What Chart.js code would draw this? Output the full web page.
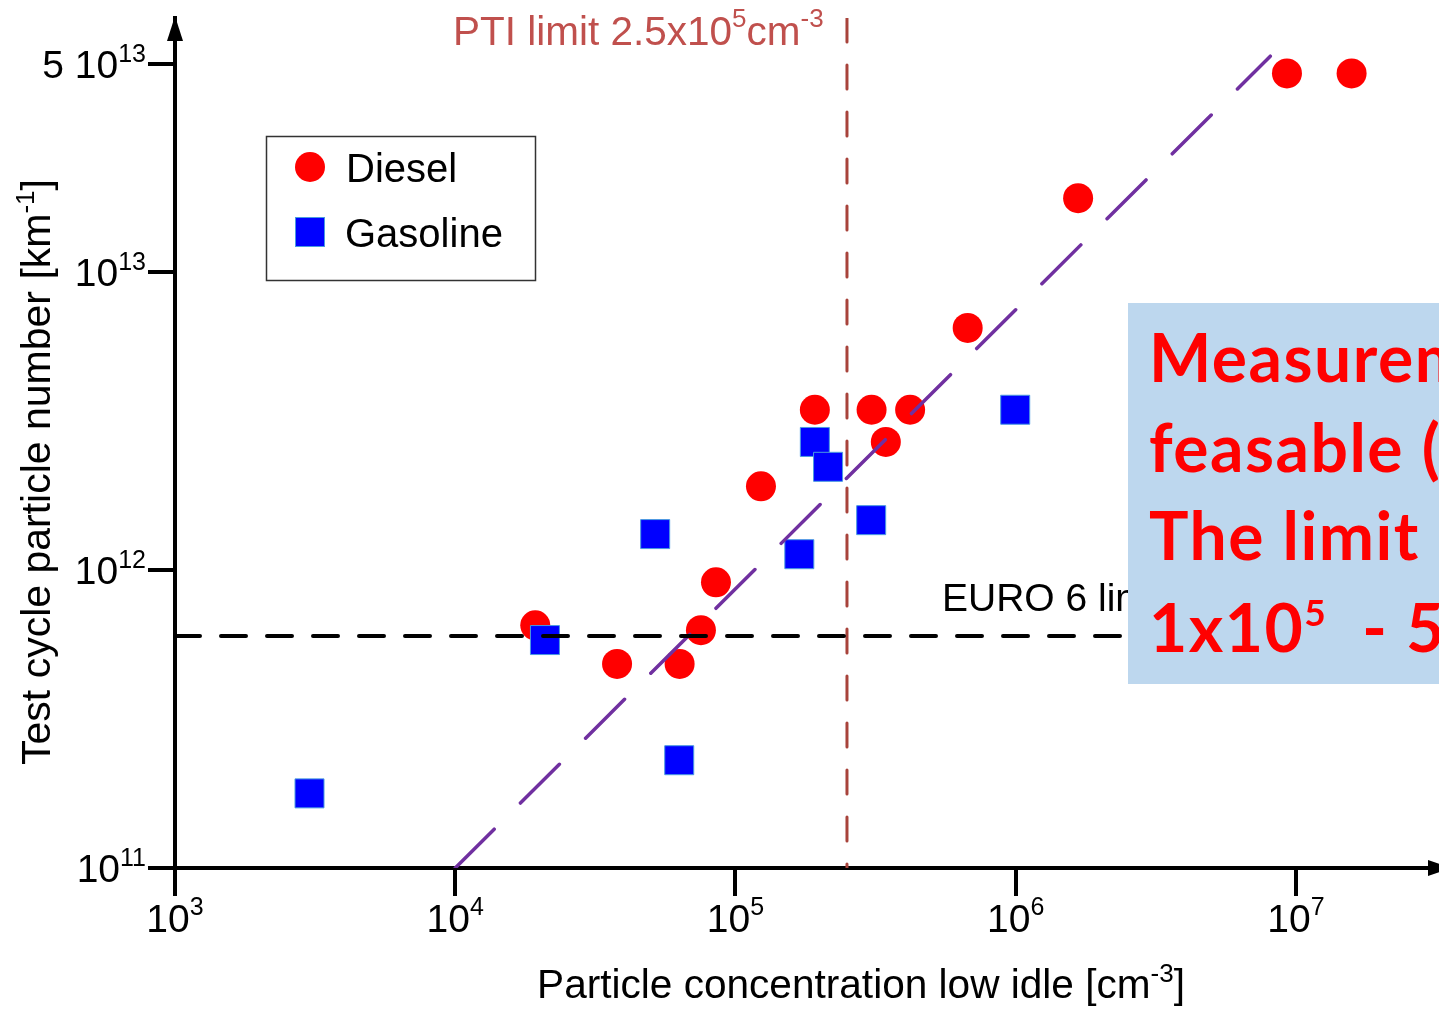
<!DOCTYPE html>
<html>
<head>
<meta charset="utf-8">
<script src="https://cdn.jsdelivr.net/npm/chart.js@4.4.1/dist/chart.umd.min.js"></script>
<style>
html,body{margin:0;padding:0;background:#fff;overflow:hidden}
#wrap{width:1439px;height:1010px;position:relative}
canvas{display:block}
</style>
</head>
<body>
<div id="wrap"><canvas id="c" width="1439" height="1010"></canvas></div>
<script>
// ---------------- data ----------------
const dieselX = [1.93e4, 3.78e4, 6.32e4, 7.53e4, 8.52e4, 1.233e5, 1.92e5, 3.06e5, 4.2e5, 3.44e5, 6.74e5, 1.67e6, 9.29e6, 1.58e7];
const dieselY = [6.52e11, 4.84e11, 4.84e11, 6.28e11, 9.09e11, 1.91e12, 3.45e12, 3.45e12, 3.45e12, 2.69e12, 6.49e12, 1.77e13, 4.64e13, 4.64e13];
const gasolineX = [3.02e3, 2.09e4, 5.17e4, 6.3e4, 1.92e5, 2.14e5, 3.05e5, 1.69e5, 9.96e5];
const gasolineY = [1.78e11, 5.82e11, 1.32e12, 2.3e11, 2.69e12, 2.22e12, 1.47e12, 1.13e12, 3.45e12];
const fitX = [1e4, 8.1e6];
const fitY = [1e11, 5.3e13];
const euro6Limit = 6e11;
const ptiLimit = 2.5e5;
const xRange = [1e3, 3.24e7];
const yRange = [1e11, 7.12e13];
const xTicks = [1e3, 1e4, 1e5, 1e6, 1e7];
const xTickLabels = ['10^{3}', '10^{4}', '10^{5}', '10^{6}', '10^{7}'];
const yTicks = [1e11, 1e12, 1e13, 5e13];
const yTickLabels = ['10^{11}', '10^{12}', '10^{13}', '5 10^{13}'];
const seriesNames = ['Diesel', 'Gasoline'];
const xTitle = 'Particle concentration low idle [cm^{-3}]';
const yTitle = 'Test cycle particle number [km^{-1}]';
const ptiText = 'PTI limit 2.5x10^{5}cm^{-3}';
const euroText = 'EURO 6 limit';
const boxLines = ['Measurement', 'feasable (', 'The limit', '1x10^{5}  - 5x10^{5}'];

// ---------------- helpers ----------------
const FONT = "'Liberation Sans', Arial, Helvetica, sans-serif";
function parseRich(s) {
  const out = []; const re = /\^\{([^}]*)\}/g; let last = 0, m;
  while ((m = re.exec(s))) {
    if (m.index > last) out.push({t: s.slice(last, m.index), sup: false});
    out.push({t: m[1], sup: true}); last = re.lastIndex;
  }
  if (last < s.length) out.push({t: s.slice(last), sup: false});
  return out;
}
function drawRich(ctx, s, x, y, o) {
  const segs = parseRich(s);
  const fam = o.family || FONT, wt = o.weight || 'normal';
  const fb = wt + ' ' + o.size + 'px ' + fam;
  const fs = wt + ' ' + o.supSize + 'px ' + fam;
  ctx.save();
  if ('letterSpacing' in ctx) ctx.letterSpacing = (o.spacing || 0) + 'px';
  let w = 0;
  segs.forEach(g => { ctx.font = g.sup ? fs : fb; g.w = ctx.measureText(g.t).width; w += g.w; });
  let cx = o.align === 'center' ? x - w / 2 : (o.align === 'right' ? x - w : x);
  ctx.fillStyle = o.color || '#000';
  ctx.textBaseline = 'alphabetic'; ctx.textAlign = 'left';
  segs.forEach(g => { ctx.font = g.sup ? fs : fb; ctx.fillText(g.t, cx, g.sup ? y - o.rise : y); cx += g.w; });
  ctx.restore();
  return w;
}

const decorPlugin = {
  id: 'decor',
  afterDraw(chart) {
    const ctx = chart.ctx, xs = chart.scales.x, ys = chart.scales.y, ca = chart.chartArea;
    ctx.save();
    // axis arrows
    ctx.fillStyle = '#000';
    ctx.beginPath(); ctx.moveTo(ca.left, 16); ctx.lineTo(ca.left - 8, 41); ctx.lineTo(ca.left + 8, 41); ctx.closePath(); ctx.fill();
    ctx.beginPath(); ctx.moveTo(ca.right + 12, ca.bottom); ctx.lineTo(ca.right - 11, ca.bottom - 8); ctx.lineTo(ca.right - 11, ca.bottom + 8); ctx.closePath(); ctx.fill();
    // tick labels
    xs.ticks.forEach((t, i) => {
      const px = xs.getPixelForValue(t.value);
      drawRich(ctx, xTickLabels[i], px, ca.bottom + 64, {size: 39, supSize: 25, rise: 17, align: 'center'});
    });
    ys.ticks.forEach((t, i) => {
      const py = ys.getPixelForValue(t.value);
      drawRich(ctx, yTickLabels[i], ca.left - 29, py + 14, {size: 39, supSize: 25, rise: 16, align: 'right'});
    });
    // axis titles
    drawRich(ctx, xTitle, 861, 998, {size: 40.6, supSize: 26, rise: 16, align: 'center'});
    ctx.save(); ctx.translate(50, 472); ctx.rotate(-Math.PI / 2);
    drawRich(ctx, yTitle, 0, 0, {size: 41, supSize: 26, rise: 16, align: 'center'});
    ctx.restore();
    // PTI annotation
    drawRich(ctx, ptiText, 453, 45, {size: 40.5, supSize: 26, rise: 18, align: 'left', color: '#c0504d'});
    // EURO 6 annotation
    drawRich(ctx, euroText, 942, 611, {size: 39, supSize: 25, rise: 16, align: 'left'});
    // legend
    const dsD = chart.data.datasets.find(d => d.label === seriesNames[0]);
    const dsG = chart.data.datasets.find(d => d.label === seriesNames[1]);
    ctx.fillStyle = '#fff'; ctx.fillRect(266.5, 136.5, 269, 144);
    ctx.strokeStyle = '#333'; ctx.lineWidth = 1.5; ctx.strokeRect(266.5, 136.5, 269, 144);
    ctx.fillStyle = dsD.backgroundColor;
    ctx.beginPath(); ctx.arc(310, 167, 15, 0, Math.PI * 2); ctx.fill();
    ctx.fillStyle = dsG.backgroundColor; ctx.fillRect(295.5, 217.5, 29, 29);
    ctx.strokeStyle = dsG.borderColor; ctx.lineWidth = 1; ctx.strokeRect(295.5, 217.5, 29, 29);
    drawRich(ctx, seriesNames[0], 346, 182, {size: 40, supSize: 25, rise: 16, align: 'left'});
    drawRich(ctx, seriesNames[1], 345, 247, {size: 40, supSize: 25, rise: 16, align: 'left'});
    // blue text box
    ctx.fillStyle = '#bdd7ee'; ctx.fillRect(1128, 303, 400, 381);
    const bb = [382, 472, 560, 652];
    boxLines.forEach((l, i) => drawRich(ctx, l, 1149, bb[i], {size: 66, supSize: 37, rise: 26, align: 'left', weight: 'bold', spacing: 1.5, family: "Lato, 'Open Sans', sans-serif", color: '#ff0000'}));
    ctx.restore();
  }
};

const toPts = (xa, ya) => xa.map((x, i) => ({x: x, y: ya[i]}));

new Chart(document.getElementById('c'), {
  type: 'scatter',
  data: {
    datasets: [
      {label: 'EURO 6 limit line', data: [{x: xRange[0], y: euro6Limit}, {x: xRange[1], y: euro6Limit}], showLine: true, pointRadius: 0,
       borderColor: '#000', borderWidth: 4, borderDash: [25, 21], borderCapStyle: 'round', order: 0},
      {label: 'PTI limit line', data: [{x: ptiLimit, y: yRange[1]}, {x: ptiLimit, y: yRange[0]}], showLine: true, pointRadius: 0,
       borderColor: '#a8433b', borderWidth: 3, borderDash: [24, 23], borderCapStyle: 'round', order: 0},
      {label: 'Fit', data: toPts(fitX, fitY), showLine: true, pointRadius: 0,
       borderColor: '#7030a0', borderWidth: 3.5, borderDash: [55, 37], borderCapStyle: 'round', order: 0},
      {label: seriesNames[1], data: toPts(gasolineX, gasolineY), pointStyle: 'rect', pointRadius: 20.5, pointHoverRadius: 20.5,
       backgroundColor: '#0000ff', borderColor: '#4a9be0', borderWidth: 1, order: 1},
      {label: seriesNames[0], data: toPts(dieselX, dieselY), pointStyle: 'circle', pointRadius: 15, pointHoverRadius: 15,
       backgroundColor: '#ff0000', borderColor: '#ff0000', borderWidth: 0, order: 2}
    ]
  },
  options: {
    responsive: false, animation: false, devicePixelRatio: 1,
    layout: {padding: {top: 18, right: 0, left: 0, bottom: 0}, autoPadding: false},
    plugins: {legend: {display: false}, tooltip: {enabled: false}},
    events: [],
    scales: {
      x: {
        type: 'logarithmic', position: 'bottom', min: xRange[0], max: xRange[1],
        afterBuildTicks: s => { s.ticks = xTicks.map(v => ({value: v, major: true})); },
        afterFit: s => { s.height = 142; },
        ticks: {display: false},
        grid: {display: true, drawOnChartArea: false, drawTicks: true, tickLength: 28, tickWidth: 4, lineWidth: 4, tickColor: '#000', color: '#000'},
        border: {display: true, color: '#000', width: 4}
      },
      y: {
        type: 'logarithmic', position: 'left', min: yRange[0], max: yRange[1],
        afterBuildTicks: s => { s.ticks = yTicks.map(v => ({value: v, major: true})); },
        afterFit: s => { s.width = 175; },
        ticks: {display: false},
        grid: {display: true, drawOnChartArea: false, drawTicks: true, tickLength: 27, tickWidth: 4, lineWidth: 4, tickColor: '#000', color: '#000'},
        border: {display: true, color: '#000', width: 4}
      }
    }
  },
  plugins: [decorPlugin]
});
</script>
</body>
</html>
